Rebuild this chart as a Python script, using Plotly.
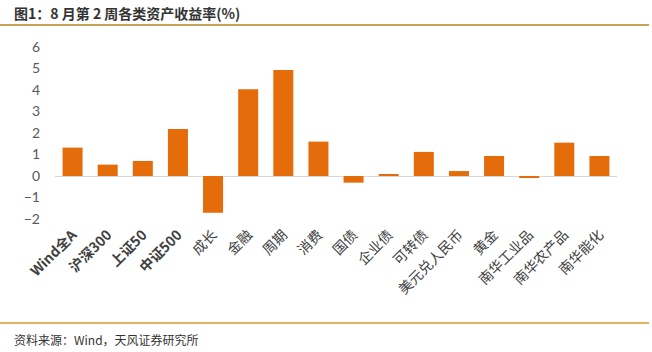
import plotly.graph_objects as go

categories = ["Wind全A", "沪深300", "上证50", "中证500", "成长", "金融", "周期", "消费",
              "国债", "企业债", "可转债", "美元兑人民币", "黄金", "南华工业品", "南华农产品", "南华能化"]
returns = [1.32, 0.53, 0.70, 2.19, -1.71, 4.03, 4.93, 1.60,
           -0.31, 0.06, 1.12, 0.23, 0.93, -0.07, 1.55, 0.93]
y_ticks = [-2, -1, 0, 1, 2, 3, 4, 5, 6]

title_text = "图1：8 月第 2 周各类资产收益率(%)"
source_text = "资料来源：Wind，天风证券研究所"

W, H = 652, 352
ML, MR, MT, MB = 55, 35, 47, 133
pw, ph = W - ML - MR, H - MT - MB

def px_x(px):
    return (px - ML) / pw

def px_y(py):
    return (H - MB - py) / ph

tick_text = [f"<b>{c}</b>" if i < 4 else c for i, c in enumerate(categories)]

fig = go.Figure()
fig.add_trace(go.Bar(
    x=categories, y=returns,
    marker=dict(color="#E46C0A", line=dict(width=0)),
    width=0.57,
))

fig.update_layout(
    width=W, height=H,
    margin=dict(l=ML, r=MR, t=MT, b=MB, pad=0),
    paper_bgcolor="white", plot_bgcolor="white",
    showlegend=False,
    font=dict(family="Noto Sans CJK SC, Lato, sans-serif", color="#404040"),
    xaxis=dict(
        tickmode="array", tickvals=categories, ticktext=tick_text,
        tickangle=-45, showgrid=False, showline=False, ticks="",
        tickfont=dict(size=14, color="#404040", family="Noto Sans CJK SC, sans-serif"),
        ticklabelstandoff=4,
    ),
    yaxis=dict(
        range=[-2, 6], tickmode="array", tickvals=y_ticks,
        showgrid=False, showline=False, ticks="",
        zeroline=True, zerolinecolor="#D9D9D9", zerolinewidth=1,
        tickfont=dict(size=14, color="#595959", family="Lato, sans-serif"),
        ticklabelstandoff=14,
    ),
    shapes=[
        dict(type="line", xref="paper", yref="paper",
             x0=px_x(0), x1=px_x(649), y0=px_y(25), y1=px_y(25),
             line=dict(color="#C9A458", width=2)),
        dict(type="line", xref="paper", yref="paper",
             x0=px_x(0), x1=px_x(649), y0=px_y(323), y1=px_y(323),
             line=dict(color="#E2B25E", width=2)),
    ],
    annotations=[
        dict(text=f"<b>{title_text}</b>", xref="paper", yref="paper",
             x=px_x(12), y=px_y(13), xanchor="left", yanchor="middle",
             showarrow=False, font=dict(size=14, color="#333333",
                                        family="Noto Sans CJK SC, sans-serif")),
        dict(text=source_text, xref="paper", yref="paper",
             x=px_x(12), y=px_y(339), xanchor="left", yanchor="middle",
             showarrow=False, font=dict(size=12, color="#333333",
                                        family="Noto Sans CJK SC, sans-serif")),
    ],
)

fig.write_html("out.html")
